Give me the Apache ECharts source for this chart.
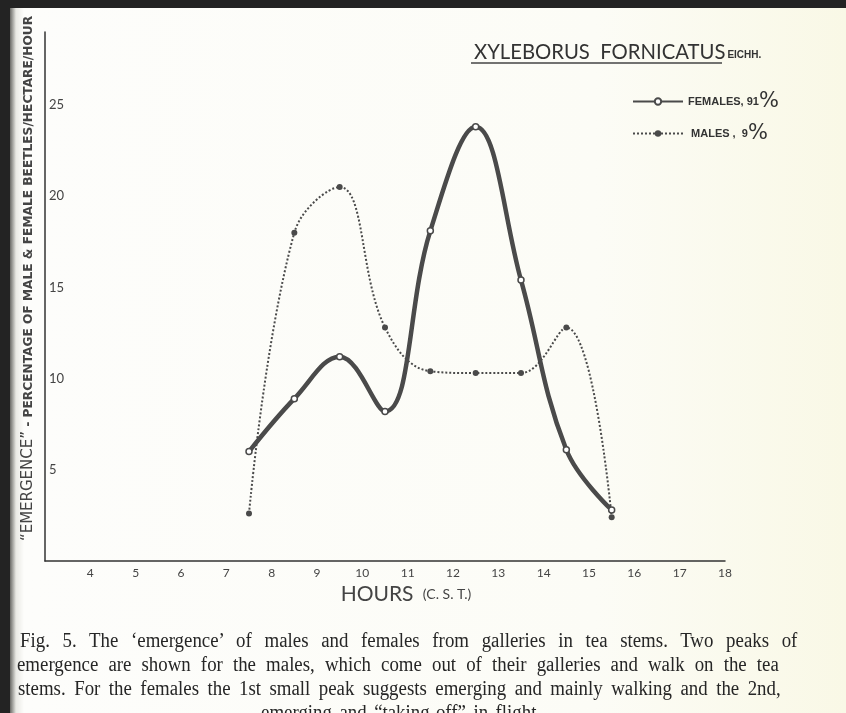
<!DOCTYPE html>
<html>
<head>
<meta charset="utf-8">
<script src="https://cdn.jsdelivr.net/npm/echarts@6/dist/echarts.min.js"></script>
<style>
  html, body { margin: 0; padding: 0; width: 846px; height: 713px; overflow: hidden; background: #232323; }
  .paper {
    position: absolute; left: 10px; top: 8px; right: 0; bottom: 0;
    background: linear-gradient(to right, #6a6a66 0px, #e9e9e4 6px, #fdfdfb 14px, #fcfcf6 70%, #f9f8e6 100%);
  }
  #chart { position: absolute; left: 0; top: 0; width: 846px; height: 713px; }
  .cap {
    position: absolute; font-family: "Liberation Serif", serif; font-size: 20.5px; color: #262626;
    white-space: nowrap; text-align: justify; text-align-last: justify; line-height: 22px;
    transform: scaleX(0.92); transform-origin: 0 0;
  }
</style>
</head>
<body>
<div class="paper"></div>
<div id="chart"></div>
<div class="cap" style="left:20px; top:629px; width:845px;">Fig. 5. The ‘emergence’ of males and females from galleries in tea stems. Two peaks of</div>
<div class="cap" style="left:17px; top:653px; width:828px;">emergence are shown for the males, which come out of their galleries and walk on the tea</div>
<div class="cap" style="left:18px; top:677px; width:829px;">stems. For the females the 1st small peak suggests emerging and mainly walking and the 2nd,</div>
<div class="cap" style="left:0; top:701px; width:872px; text-align:center; text-align-last:center; word-spacing:3px;">emerging and “taking-off” in flight.</div>
<script>
// values
const hours = [7.5, 8.5, 9.5, 10.5, 11.5, 12.5, 13.5, 14.5, 15.5]
const females = [6.0, 8.9, 11.2, 8.2, 18.1, 23.8, 15.4, 6.1, 2.8]
const males = [2.6, 18.0, 20.5, 12.8, 10.4, 10.3, 10.3, 12.8, 2.4]
const xTicks = [4, 5, 6, 7, 8, 9, 10, 11, 12, 13, 14, 15, 16, 17, 18]
const yTicks = [5, 10, 15, 20, 25]

const ink = '#4a4a4a'
const pair = (ys) => hours.map((h, i) => [h, ys[i]])

const chart = echarts.init(document.getElementById('chart'))

chart.setOption({
    backgroundColor: 'transparent',
    animation: false,
    title: {
        left: 469,
        top: 37,
        text: 'XYLEBORUS  FORNICATUS{b|EICHH.}',
        textStyle: {
            fontFamily: 'Lato',
            fontSize: 20.3,
            fontWeight: 'normal',
            color: '#333',
            rich: {
                b: { fontFamily: 'Liberation Sans', fontSize: 10, fontWeight: 'bold', color: '#333', padding: [6, 0, 0, 2] },
            },
        },
    },
    graphic: [
        // underline of the species name
        { type: 'line', shape: { x1: 471, y1: 63, x2: 722, y2: 63 }, style: { stroke: '#444', lineWidth: 1.5 } },
    ],
    legend: {
        orient: 'vertical',
        left: 627,
        top: 86,
        itemWidth: 50,
        itemHeight: 8,
        itemGap: 11,
        textStyle: {
            fontFamily: 'Liberation Sans',
            fontSize: 11,
            fontWeight: 'bold',
            color: '#333',
            rich: { p: { fontSize: 21, fontWeight: 'normal', color: '#333', fontFamily: 'DejaVu Sans' } },
        },
        formatter: (name) => name === 'females' ? 'FEMALES, 91{p|%}' : ' MALES ,  9{p|%}',
        data: ['females', 'males'],
    },
    grid: { left: 45, right: 121, top: 32, bottom: 152 },
    xAxis: {
        type: 'value',
        min: 3,
        max: 18,
        interval: 1,
        name: 'HOURS {s|(C. S. T.)}',
        nameLocation: 'middle',
        nameGap: 21,
        nameTextStyle: {
            fontFamily: 'Lato',
            fontSize: 21,
            color: '#444',
            padding: [0, 0, 0, 42],
            rich: { s: { fontSize: 14, color: '#444', fontFamily: 'Lato', padding: [0, 0, 0, 4] } },
        },
        axisLine: { lineStyle: { color: '#333', width: 1.5 } },
        axisTick: { show: false },
        splitLine: { show: false },
        axisLabel: {
            margin: 6,
            fontFamily: 'Lato',
            fontSize: 12,
            color: '#444',
            formatter: (v) => xTicks.includes(v) ? String(v) : '',
        },
    },
    yAxis: {
        type: 'value',
        min: 0,
        max: 29,
        interval: 5,
        name: '{e|“EMERGENCE”} - PERCENTAGE OF MALE & FEMALE BEETLES/HECTARE/HOUR',
        nameLocation: 'middle',
        nameRotate: 90,
        nameGap: 9,
        nameTextStyle: {
            fontFamily: 'DejaVu Sans',
            fontSize: 12.2,
            fontWeight: 'bold',
            color: '#444',
            padding: [0, 0, 0, 36],
            rich: { e: { fontFamily: 'DejaVu Sans', fontSize: 15, fontWeight: 'normal', color: '#444' } },
        },
        axisLine: { show: true, lineStyle: { color: '#333', width: 1.5 } },
        axisTick: { show: false },
        splitLine: { show: false },
        axisLabel: {
            inside: true,
            margin: 4,
            fontFamily: 'Lato',
            fontSize: 13,
            color: '#444',
            formatter: (v) => yTicks.includes(v) ? String(v) : '',
        },
    },
    series: [
        {
            name: 'females',
            type: 'line',
            data: pair(females),
            smooth: 0.4,
            symbol: 'circle',
            symbolSize: 6,
            lineStyle: { color: ink, width: 4.5 },
            itemStyle: { color: '#fff', borderColor: ink, borderWidth: 1.5 },
            z: 3,
        },
        {
            name: 'males',
            type: 'line',
            data: pair(males),
            smooth: 0.4,
            symbol: 'circle',
            symbolSize: 6,
            lineStyle: { color: ink, width: 2, type: [2, 2] },
            itemStyle: { color: ink },
            z: 2,
        },
    ],
})
</script>
</body>
</html>
